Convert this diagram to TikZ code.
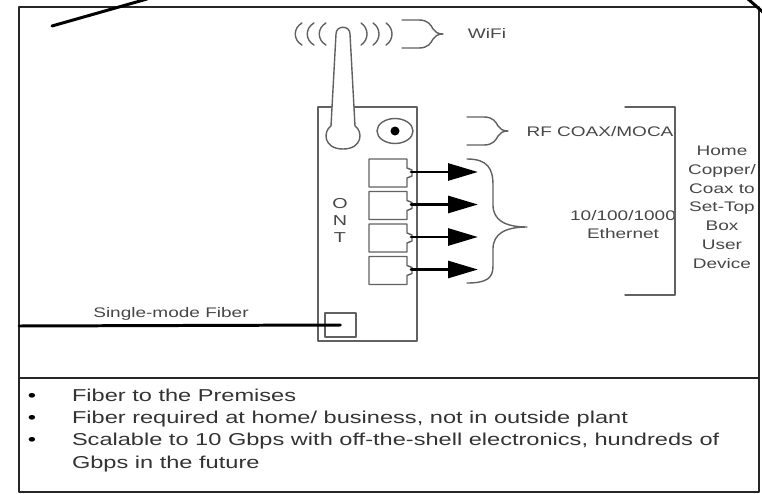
\documentclass[tikz,border=0pt]{standalone}
\usepackage{fontspec}
\setmainfont{Liberation Sans}[FakeStretch=1.37]
\usetikzlibrary{arrows.meta}

\begin{document}
\begin{tikzpicture}[x=0.02cm, y=-0.02cm, line cap=round, line join=round,
    frameline/.style={line width=1.2pt, black!85},
    devline/.style={line width=0.8pt, black!62},
    cableline/.style={line width=1.7pt, black},
    portarrow/.style={line width=1.7pt, black, -{Triangle[length=17pt, width=9.6pt]}},
    lbl/.style={inner sep=0pt, outer sep=0pt, text=black!72, align=center,
      font=\fontsize{7.9}{10.7}\selectfont},
    itemtxt/.style={inner sep=0pt, outer sep=0pt, text=black!80,
      font=\fontsize{9.8}{12.5}\selectfont},
    sbrace/.pic={
      \draw[devline] (0,0) -- (17,0) .. controls (26,0) and (29,5) .. (31,9)
        .. controls (33,12) and (36,14) .. (41,14)
        .. controls (36,14) and (33,16) .. (31,19)
        .. controls (29,23) and (26,28) .. (17,28) -- (0,28);
    }]
  \useasboundingbox (0,0) rectangle (762,494);

  % frame and divider
  \draw[frameline] (19,7) rectangle (759,492);
  \coordinate (dl) at (19,378);
  \coordinate (dr) at (759,378);
  \draw[frameline] (dl) -- (dr);

  % cables cut by the top edge
  \coordinate (ca) at (52,26);
  \coordinate (cb) at (147,-1);
  \draw[cableline] (ca) -- (cb);
  \coordinate (cc) at (748,-1);
  \coordinate (cd) at (764,13);
  \draw[cableline] (cc) -- (cd);

  % ONT box
  \node[draw=black!62, line width=0.8pt, minimum width=1.98cm, minimum height=4.68cm,
    inner sep=0pt] (ont) at (367.5,224) {};
  % multi-line labels: base = last line
  \node[lbl, anchor=base, font=\fontsize{8.2}{9.6}\selectfont] (ontlbl) at (340,242) {O\\N\\T};

  % antenna and wifi waves
  \draw[devline, fill=white] (331,126) -- (336,34) .. controls (336,25) and (350,25) .. (350,34)
    -- (355,126) .. controls (363,131) and (363,149) .. (343,149)
    .. controls (323,149) and (323,131) .. (331,126) -- cycle;
  \foreach \m in {295,307,319}
    \draw[devline] (\m+7,23) .. controls (\m-2,28) and (\m-2,40) .. (\m+7,45);
  \foreach \m in {367,379,392}
    \draw[devline] (\m-6,23) .. controls (\m+2,28) and (\m+2,40) .. (\m-6,45);
  \pic at (402,20) {sbrace};
  \node[lbl, anchor=base] (wifi) at (487,38) {WiFi};

  % coax connector
  \draw[devline] (395,131) ellipse [x radius=18, y radius=12.5];
  \fill[black] (395,131) circle [radius=4.5];
  \pic at (467,117) {sbrace};
  \node[lbl, anchor=base] (rf) at (600,136) {RF COAX/MOCA};

  % ethernet ports
  \foreach \i/\t in {1/159,2/191.5,3/224,4/256.5} {
    \draw[devline] (369,\t) -- (407,\t) -- (407,\t+9) -- (412,\t+11) -- (412,\t+17)
      -- (407,\t+19) -- (407,\t+28) -- (369,\t+28) -- cycle;
    \coordinate (p\i) at (411,\t+13);
    \coordinate (e\i) at (478,\t+13);
    \draw[portarrow] (p\i) -- (e\i);
  }
  \draw[devline] (467,159) .. controls (487,159) and (493,168) .. (493,185) -- (493,205)
    .. controls (493,220) and (505,227) .. (527,227)
    .. controls (505,227) and (493,234) .. (493,249) -- (493,266)
    .. controls (493,278) and (487,283) .. (467,283);
  \node[lbl, anchor=base, font=\fontsize{7.9}{10.2}\selectfont] (eth) at (623,238)
    {10/100/1000\\Ethernet};

  % home side bracket
  \draw[devline] (625,107) -- (675,107) -- (675,295) -- (625,295);
  \node[lbl, anchor=base, font=\fontsize{7.9}{10.66}\selectfont] (home) at (722,268)
    {Home\\Copper/\\Coax to\\Set-Top\\Box\\User\\Device};

  % fiber in
  \node[draw=black!62, line width=1pt, minimum width=0.62cm, minimum height=0.48cm,
    inner sep=0pt] (fport) at (340.5,325) {};
  \coordinate (fin) at (19,326);
  \draw[cableline] (fin) -- (fport.center);
  \node[lbl, anchor=base] (smf) at (171,317) {Single-mode Fiber};

  % notes
  \foreach \i/\y in {1/401,2/423,3/445}
    \node[itemtxt, anchor=base, text=black] (b\i) at (32,\y) {•};
  \node[itemtxt, anchor=base west] (t1) at (72,401) {Fiber to the Premises};
  \node[itemtxt, anchor=base west] (t2) at (72,423) {Fiber required at home/ business, not in outside plant};
  \node[itemtxt, anchor=base west] (t3) at (72,445) {Scalable to 10 Gbps with off-the-shell electronics, hundreds of};
  \node[itemtxt, anchor=base west] (t4) at (72,468) {Gbps in the future};
\end{tikzpicture}
\end{document}
